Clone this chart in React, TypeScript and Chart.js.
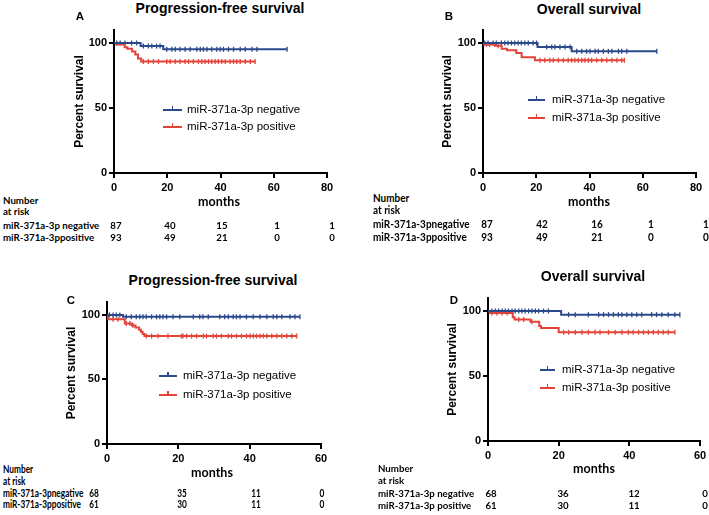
import React, { useEffect, useRef } from "react";
import { Chart, registerables } from "chart.js";

Chart.register(...registerables);

const AX_FONT = '"Liberation Sans", Arial, sans-serif';
const TAB_FONT = 'Lato, "Open Sans", sans-serif';
const BLUE = "#2b4a8b";
const RED = "#e4433a";

// ---------- Panel A: Progression-free survival ----------
const aNegTimes = [0, 10, 18.5];
const aNegSurv = [100, 97.6, 95.2];
const aNegCensor = [1, 2.3, 4.1, 6.6, 8.5, 11, 12.9, 14.2, 16, 17.3, 19.8, 21.7, 23, 24.8, 26.7, 28.6, 31.1, 32.4, 33.6, 34.9, 36.7, 38.6, 39.9, 41.1, 43, 44.9, 47.4, 49.3, 51.8, 53.7, 65];
const aPosTimes = [0, 0.8, 4, 5, 6.8, 8, 9, 10.2];
const aPosSurv = [100, 98.9, 96.7, 95.6, 93.4, 91.2, 88.0, 85.8];
const aPosCensor = [11, 12.9, 14.8, 16.7, 19.8, 21.1, 23, 24.8, 26.7, 28, 29.8, 31.7, 33, 34.2, 35.5, 36.7, 38, 39.2, 40.5, 41.8, 43.6, 44.9, 46.1, 47.4, 49.3, 51.2, 53];

// ---------- Panel B: Overall survival ----------
const bNegTimes = [0, 20.5, 33.3];
const bNegSurv = [100, 96.9, 93.6];
const bNegCensor = [0.6, 1.9, 3.8, 5, 6.9, 8.2, 9.4, 10.7, 11.9, 13.2, 14.4, 15.7, 17, 18.8, 20.1, 23.9, 25.8, 27, 28.9, 30.8, 32.7, 35.2, 37.1, 38.9, 40.2, 42.1, 43.3, 45.2, 47.1, 48.4, 50.9, 52.1, 54, 65.3];
const bPosTimes = [0, 0.5, 4.5, 7, 9, 12.5, 14.5, 19.5];
const bPosSurv = [100, 98.9, 97.8, 95.6, 94.5, 92.3, 89.0, 86.7];
const bPosCensor = [1.3, 2.5, 5.7, 21.4, 23.2, 25.1, 26.4, 28.3, 30.2, 32, 33.3, 34.5, 35.8, 37.1, 38.3, 39.6, 40.8, 42.7, 44.6, 46.5, 48.4, 50.3, 52.1, 53.1];

// ---------- Panel C: Progression-free survival ----------
const cNegTimes = [0, 4.5];
const cNegSurv = [100, 98.5];
const cNegCensor = [0.7, 1.7, 2.6, 3.6, 5.4, 6.8, 8.2, 9.2, 10.1, 11, 12.5, 13.9, 14.8, 15.7, 16.7, 18.5, 20.4, 24.2, 26, 26.9, 28.4, 31.6, 33, 34, 35.4, 36.3, 37.3, 39.1, 41, 42.9, 44.8, 46.6, 47.6, 49, 51.3, 52.7, 54.1];
const cPosTimes = [0, 0.3, 5, 7, 8, 9, 9.5, 10, 10.5];
const cPosSurv = [100, 96.7, 93.4, 91.8, 90.2, 88.5, 86.9, 85.2, 83.6];
const cPosCensor = [1.7, 3.1, 5.4, 6.4, 7.3, 11, 12.5, 14.3, 17.1, 20.9, 21.3, 22.3, 23.7, 25.1, 27, 27.9, 29.8, 30.7, 32.1, 34, 34.9, 36.3, 37.7, 39.1, 40.1, 41, 41.9, 42.9, 43.8, 44.8, 46.2, 47.6, 49, 50.4, 51.8, 53.2];

// ---------- Panel D: Overall survival ----------
const dNegTimes = [0, 20.7];
const dNegSurv = [100, 97.2];
const dNegCensor = [1.1, 2.1, 3, 4, 4.9, 5.8, 6.8, 7.7, 8.7, 9.6, 10.5, 11.5, 12.4, 13.4, 14.3, 15.7, 17.1, 22.8, 24.7, 28.4, 31.3, 32.7, 34.1, 35.5, 36.9, 37.9, 39.3, 40.7, 42.1, 43.5, 46.3, 47.7, 49.2, 51, 52.9, 54.3];
const dPosTimes = [0, 0.5, 7, 7.5, 12, 14.5, 15, 20];
const dPosSurv = [100, 98.4, 95.1, 93.4, 91.8, 88.5, 86.9, 83.6];
const dPosCensor = [1.1, 2.5, 4, 5.4, 8.7, 10.1, 12.4, 21.4, 22.8, 24.7, 26.6, 28.4, 30.3, 31.7, 34.1, 36, 37.9, 39.7, 41.1, 42.6, 44, 45.4, 46.8, 48.2, 49.6, 51, 52.9];

// ---------- Number at risk ----------
const aRiskNeg = [87, 40, 15, 1, 1];
const aRiskPos = [93, 49, 21, 0, 0];
const bRiskNeg = [87, 42, 16, 1, 1];
const bRiskPos = [93, 49, 21, 0, 0];
const cRiskNeg = [68, 35, 11, 0];
const cRiskPos = [61, 30, 11, 0];
const dRiskNeg = [68, 36, 12, 0];
const dRiskPos = [61, 30, 11, 0];

const yTicks = [0, 50, 100];

function survAt(times: number[], surv: number[], t: number) {
  let v = surv[0];
  for (let i = 0; i < times.length; i++) if (times[i] <= t) v = surv[i];
  return v;
}
function linePts(times: number[], surv: number[], censor: number[]) {
  const pts = times.map((t, i) => ({ x: t, y: surv[i] }));
  const end = Math.max(...censor);
  pts.push({ x: end, y: surv[surv.length - 1] });
  return pts;
}
function censorPts(times: number[], surv: number[], censor: number[]) {
  return censor.map((t) => ({ x: t, y: survAt(times, surv, t) }));
}

type Panel = {
  letter: string;
  title: string;
  xMax: number;
  neg: [number[], number[], number[]];
  pos: [number[], number[], number[]];
  riskNeg: number[];
  riskPos: number[];
  negLabel: string;
  posLabel: string;
  L: number; R: number; T: number; B: number;
  yTitleX: number;
  titlePos: [number, number];
  letterPos: [number, number];
  legend: { x1: number; x2: number; tx: number; y1: number; y2: number };
  table: { labelX: number; numberY: number; atRiskY: number; negY: number; posY: number; colX: number[]; monthsX: number; monthsY: number; size: number; sx: number };
};

const panels: Panel[] = [
  {
    letter: "A", title: "Progression-free survival", xMax: 80,
    neg: [aNegTimes, aNegSurv, aNegCensor], pos: [aPosTimes, aPosSurv, aPosCensor],
    riskNeg: aRiskNeg, riskPos: aRiskPos,
    negLabel: "miR-371a-3p negative", posLabel: "miR-371a-3ppositive",
    L: 114, R: 327, T: 30, B: 173, yTitleX: 80,
    titlePos: [220, 8], letterPos: [80, 17],
    legend: { x1: 163, x2: 182, tx: 187, y1: 110, y2: 127 },
    table: { labelX: 3, numberY: 200, atRiskY: 211, negY: 225, posY: 237, colX: [116, 170, 222, 277, 332], monthsX: 219, monthsY: 202, size: 10, sx: 0.97 },
  },
  {
    letter: "B", title: "Overall survival", xMax: 80,
    neg: [bNegTimes, bNegSurv, bNegCensor], pos: [bPosTimes, bPosSurv, bPosCensor],
    riskNeg: bRiskNeg, riskPos: bRiskPos,
    negLabel: "miR-371a-3pnegative", posLabel: "miR-371a-3ppositive",
    L: 483, R: 696, T: 30, B: 173, yTitleX: 448,
    titlePos: [589, 8.5], letterPos: [449, 17],
    legend: { x1: 528, x2: 545, tx: 552, y1: 100, y2: 118 },
    table: { labelX: 373, numberY: 198, atRiskY: 210, negY: 224, posY: 237, colX: [487, 542, 597, 651, 706], monthsX: 589, monthsY: 202, size: 10.5, sx: 0.95 },
  },
  {
    letter: "C", title: "Progression-free survival", xMax: 60,
    neg: [cNegTimes, cNegSurv, cNegCensor], pos: [cPosTimes, cPosSurv, cPosCensor],
    riskNeg: cRiskNeg, riskPos: cRiskPos,
    negLabel: "miR-371a-3pnegative", posLabel: "miR-371a-3ppositive",
    L: 107, R: 321, T: 302, B: 444, yTitleX: 72,
    titlePos: [213, 280], letterPos: [71, 301],
    legend: { x1: 159, x2: 177, tx: 183, y1: 376, y2: 395 },
    table: { labelX: 3, numberY: 469, atRiskY: 481, negY: 493, posY: 504, colX: [94, 182, 256, 322], monthsX: 212, monthsY: 473, size: 10.5, sx: 0.79 },
  },
  {
    letter: "D", title: "Overall survival", xMax: 60,
    neg: [dNegTimes, dNegSurv, dNegCensor], pos: [dPosTimes, dPosSurv, dPosCensor],
    riskNeg: dRiskNeg, riskPos: dRiskPos,
    negLabel: "miR-371a-3p negative", posLabel: "miR-371a-3p positive",
    L: 488, R: 700, T: 298, B: 441, yTitleX: 453,
    titlePos: [593, 276], letterPos: [454, 301],
    legend: { x1: 540, x2: 555, tx: 562, y1: 370, y2: 388 },
    table: { labelX: 378, numberY: 468, atRiskY: 480, negY: 493, posY: 505, colX: [491, 563, 634, 705], monthsX: 594, monthsY: 469, size: 10.2, sx: 0.95 },
  },
];

function Txt(props: { x: number; y: number; text: string; family: string; size: number; weight?: string; align?: "left" | "center"; color?: string; sx?: number }) {
  const { x, y, text, family, size, weight = "bold", align = "center", color = "#000", sx = 1 } = props;
  return (
    <div
      style={{
        position: "absolute", left: x, top: y, whiteSpace: "nowrap", lineHeight: 1,
        fontFamily: family, fontSize: size, fontWeight: weight as any, color,
        transformOrigin: align === "center" ? "50% 50%" : "0 50%",
        transform: (align === "center" ? "translate(-50%, -50%)" : "translate(0, -50%)") + ` scaleX(${sx})`,
      }}
    >
      {text}
    </div>
  );
}

function KMChart({ p }: { p: Panel }) {
  const ref = useRef<HTMLCanvasElement>(null);
  const left = p.yTitleX - 20;
  const top = p.T - 12;
  const width = p.R + 20 - left;
  const height = p.B + 30 - top;
  const yAxisWidth = p.L - left;

  useEffect(() => {
    const axisGrid = { display: true, drawOnChartArea: false, drawTicks: true, tickLength: 5, color: "#000", lineWidth: 2 };
    const axisBorder = { display: true, color: "#000", width: 2 };
    const tickFont = { family: AX_FONT, size: 11, weight: "bold" as const };
    const chart = new Chart(ref.current as HTMLCanvasElement, {
      type: "line",
      data: {
        datasets: [
          { label: p.negLabel, data: linePts(p.neg[0], p.neg[1], p.neg[2]), stepped: true, borderColor: BLUE, borderWidth: 2, pointRadius: 0, fill: false },
          { label: p.posLabel, data: linePts(p.pos[0], p.pos[1], p.pos[2]), stepped: true, borderColor: RED, borderWidth: 2, pointRadius: 0, fill: false },
          { type: "scatter", label: "neg censored", data: censorPts(p.neg[0], p.neg[1], p.neg[2]), showLine: false, pointStyle: "line", pointRotation: 90, pointRadius: 2.5, pointBorderWidth: 1.3, pointBorderColor: BLUE, borderColor: BLUE, backgroundColor: BLUE } as any,
          { type: "scatter", label: "pos censored", data: censorPts(p.pos[0], p.pos[1], p.pos[2]), showLine: false, pointStyle: "line", pointRotation: 90, pointRadius: 2.5, pointBorderWidth: 1.3, pointBorderColor: RED, borderColor: RED, backgroundColor: RED } as any,
        ],
      },
      options: {
        animation: false,
        responsive: false,
        events: [],
        layout: { padding: { left: 0, top: 12, right: 20, bottom: 0 } },
        plugins: { legend: { display: false }, tooltip: { enabled: false }, title: { display: false } },
        scales: {
          x: {
            type: "linear", min: 0, max: p.xMax,
            ticks: { stepSize: 20, font: tickFont, color: "#000", padding: 3, maxRotation: 0 },
            grid: axisGrid, border: axisBorder,
            afterFit: (s: any) => { s.height = 30; },
          },
          y: {
            type: "linear", min: 0, max: 110,
            afterBuildTicks: (s: any) => { s.ticks = yTicks.map((v) => ({ value: v })); },
            ticks: { font: tickFont, color: "#000", padding: 2 },
            grid: axisGrid, border: axisBorder,
            title: { display: true, text: "Percent survival", color: "#000", font: { family: AX_FONT, size: 12, weight: "bold" }, padding: { top: 12.8, bottom: 0 } },
            afterFit: (s: any) => { s.width = yAxisWidth; },
          },
        },
      } as any,
    });
    return () => chart.destroy();
  }, []);

  return (
    <canvas
      ref={ref}
      width={width}
      height={height}
      style={{ position: "absolute", left, top, width, height }}
    />
  );
}

function Legend({ p }: { p: Panel }) {
  const items = [
    { y: p.legend.y1, color: BLUE, text: "miR-371a-3p negative" },
    { y: p.legend.y2, color: RED, text: "miR-371a-3p positive" },
  ];
  return (
    <>
      {items.map((it, i) => (
        <React.Fragment key={i}>
          <div style={{ position: "absolute", left: p.legend.x1, top: it.y - 1, width: p.legend.x2 - p.legend.x1, height: 2, background: it.color }} />
          <div style={{ position: "absolute", left: (p.legend.x1 + p.legend.x2) / 2 - 0.75, top: it.y - 4, width: 1.5, height: 4, background: it.color }} />
          <Txt x={p.legend.tx} y={it.y} text={it.text} family={AX_FONT} size={11.5} weight="normal" align="left" />
        </React.Fragment>
      ))}
    </>
  );
}

function RiskTable({ p }: { p: Panel }) {
  const t = p.table;
  const fs = t.size;
  return (
    <>
      <Txt x={t.labelX} y={t.numberY} text="Number" family={TAB_FONT} size={fs} align="left" sx={t.sx} />
      <Txt x={t.labelX} y={t.atRiskY} text="at risk" family={TAB_FONT} size={fs} align="left" sx={t.sx} />
      <Txt x={t.labelX} y={t.negY} text={p.negLabel} family={TAB_FONT} size={fs} align="left" sx={t.sx} />
      <Txt x={t.labelX} y={t.posY} text={p.posLabel} family={TAB_FONT} size={fs} align="left" sx={t.sx} />
      <Txt x={t.monthsX} y={t.monthsY} text="months" family={TAB_FONT} size={12.5} />
      {p.riskNeg.map((v, i) => (
        <Txt key={"n" + i} x={t.colX[i]} y={t.negY} text={String(v)} family={TAB_FONT} size={fs} sx={t.sx} />
      ))}
      {p.riskPos.map((v, i) => (
        <Txt key={"p" + i} x={t.colX[i]} y={t.posY} text={String(v)} family={TAB_FONT} size={fs} sx={t.sx} />
      ))}
    </>
  );
}

export default function App() {
  return (
    <div style={{ position: "absolute", left: 0, top: 0, width: 709, height: 515, overflow: "hidden", background: "#fff" }}>
      {panels.map((p) => (
        <React.Fragment key={p.letter}>
          <KMChart p={p} />
          <Txt x={p.titlePos[0]} y={p.titlePos[1]} text={p.title} family={AX_FONT} size={14} />
          <Txt x={p.letterPos[0]} y={p.letterPos[1]} text={p.letter} family={AX_FONT} size={11.5} />
          <Legend p={p} />
          <RiskTable p={p} />
        </React.Fragment>
      ))}
    </div>
  );
}
